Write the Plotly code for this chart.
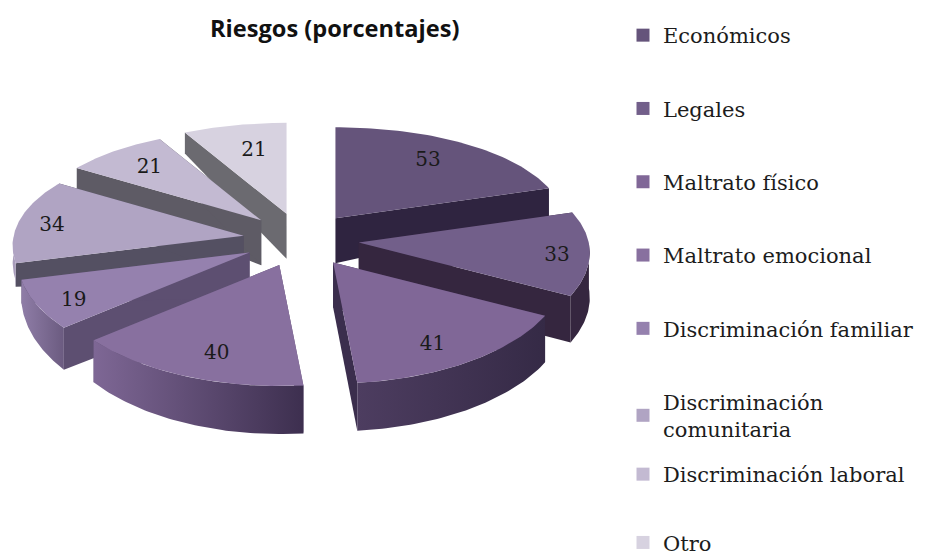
import numpy as np
import plotly.graph_objects as go

categories = ["Económicos", "Legales", "Maltrato físico", "Maltrato emocional",
              "Discriminación familiar", "Discriminación<br>comunitaria",
              "Discriminación laboral", "Otro"]
values = [53, 33, 41, 40, 19, 34, 21, 21]
top_colors = ["#65547b", "#725f8a", "#806797", "#88709f", "#9581ae", "#b0a4c3", "#c3bad2", "#d7d2e0"]
wall_colors = ["#2f2440", "#35263f", "#3b2e4d", "#5e4f72", "#5d4f71", "#545062", "#5e5b65", "#6b6a70"]
rim_left = ["#2f2440", "#35263f", "#4d3d60", "#7e6795", "#8f7da7", "#a89cbb", "#bbb2c9", "#ccc8d5"]
rim_right = ["#2f2440", "#35263f", "#352a46", "#3d2f4f", "#6b5b80", "#a89cbb", "#bbb2c9", "#ccc8d5"]
title_text = "Riesgos (porcentajes)"

CX, CY = 301, 240
PULL_X, PULL_Y = 58, 27


def rim_point(theta, ax, ay):
    rx = 230 - 22 * np.cos(theta)
    ry = 106 - 15 * np.cos(theta)
    return ax + rx * np.sin(theta), ay - ry * np.cos(theta)


def depth_at(theta):
    c = np.cos(theta)
    s = np.sin(theta)
    back = np.where(c > 0, np.abs(c) ** 0.3, 0.0)
    d = 45 + 3 * np.where(c < 0, -c, 0.0) - 25 * back
    left = 17 + 31 * np.clip((-c - 0.24) / 0.76, 0, 1) ** 0.35
    return np.where((s < 0) & (c <= 0), left, d)


total = sum(values)
edges = np.cumsum([0] + values) / total * 2 * np.pi
fig = go.Figure()
labels_x, labels_y, labels_t = [], [], []

mids = (edges[:-1] + edges[1:]) / 2
apex_y = CY - PULL_Y * np.cos(mids)
order = np.argsort(apex_y)

for i in order:
    a0, a1 = edges[i], edges[i + 1]
    mid = mids[i]
    ax = CX + PULL_X * np.sin(mid)
    ay = CY - PULL_Y * np.cos(mid)
    th = np.linspace(a0, a1, 60)
    rx_pts, ry_pts = rim_point(th, ax, ay)
    common = dict(mode="lines", line=dict(width=0), hoverinfo="skip", showlegend=False)
    d0 = float(depth_at(np.array(a0)))
    d1 = float(depth_at(np.array(a1)))
    # radial walls
    for edge_x, edge_y, d in ((rx_pts[0], ry_pts[0], d0), (rx_pts[-1], ry_pts[-1], d1)):
        fig.add_trace(go.Scatter(x=[ax, edge_x, edge_x, ax, ax],
                                 y=[ay, edge_y, edge_y + d, ay + 45, ay],
                                 fill="toself", fillcolor=wall_colors[i], **common))
    # outer wall, front half only
    vis = (np.cos(th) < 0.0)
    if vis.sum() > 1:
        x_vis, y_vis, t_vis = rx_pts[vis], ry_pts[vis], th[vis]
        xs = np.concatenate([x_vis, x_vis[::-1]])
        ys = np.concatenate([y_vis, (y_vis + depth_at(t_vis))[::-1]])
        fig.add_trace(go.Scatter(x=xs, y=ys, fill="toself",
                                 fillgradient=dict(type="horizontal",
                                                   colorscale=[[0, rim_left[i]], [1, rim_right[i]]]),
                                 **common))
    # top face
    fig.add_trace(go.Scatter(x=np.r_[ax, rx_pts, ax], y=np.r_[ay, ry_pts, ay], fill="toself",
                             fillcolor=top_colors[i], **common))
    s_abs = abs(np.sin(mid))
    lx, ly = rim_point(mid, ax, ay)
    labels_x.append(ax + (0.55 + 0.31 * s_abs) * (lx - ax))
    labels_y.append(ay + (0.68 + 0.16 * s_abs) * (ly - ay) + 4 - 3 * np.cos(mid))
    labels_t.append(str(values[i]))

fig.add_trace(go.Scatter(x=labels_x, y=labels_y, text=labels_t, mode="text",
                         textfont=dict(family="DejaVu Serif", size=20, color="#1a1a1a"),
                         hoverinfo="skip", showlegend=False))

for i, name in enumerate(categories):
    fig.add_trace(go.Scatter(x=[None], y=[None], mode="markers", name=name,
                             marker=dict(symbol="square", size=13, color=top_colors[i]),
                             legendgroup=f"g{i}",
                             legend="legend" if i < 6 else "legend2"))

legend_font = dict(family="DejaVu Serif", size=21, color="#1c1c1c")
fig.update_layout(
    width=925, height=556, margin=dict(l=0, r=0, t=0, b=0, autoexpand=False),
    paper_bgcolor="white", plot_bgcolor="white",
    xaxis=dict(range=[0, 925], visible=False, fixedrange=True),
    yaxis=dict(range=[556, 0], visible=False, fixedrange=True),
    legend=dict(x=623 / 925, y=1 - 15 / 556, xanchor="left", yanchor="top",
                font=legend_font, tracegroupgap=43, bgcolor="rgba(0,0,0,0)"),
    legend2=dict(x=623 / 925, y=1 - 454 / 556, xanchor="left", yanchor="top",
                 font=legend_font, tracegroupgap=38, bgcolor="rgba(0,0,0,0)"),
    annotations=[dict(text=f"<b>{title_text}</b>", x=334, y=28, xref="x", yref="y",
                      showarrow=False, font=dict(family="Open Sans", size=23.6, color="#111111"))],
)
fig.write_html("out.html", config=dict(displayModeBar=False),
               post_script="document.body.style.margin='0';")
